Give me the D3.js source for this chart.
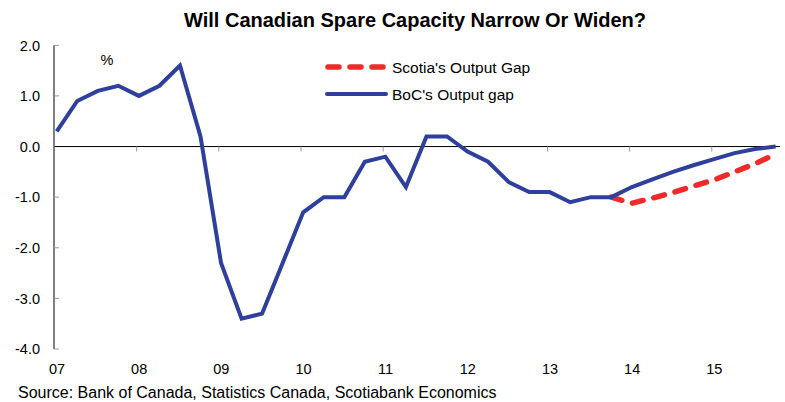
<!DOCTYPE html>
<meta charset="utf-8">
<style>
body { margin: 0; background: #fff; }
svg text { font-family: "Liberation Sans", Arial, sans-serif; fill: #000; }
.title { font-size: 20px; font-weight: bold; }
.tick-label { font-size: 14.5px; }
.legend text { font-size: 15.5px; }
.source { font-size: 16px; }
</style>
<svg width="785" height="402"></svg>
<script src="https://d3js.org/d3.v7.min.js"></script>
<script>

// quarterly data, 2007Q1 .. 2015Q4
var quarters = [
  "2007Q1","2007Q2","2007Q3","2007Q4","2008Q1","2008Q2","2008Q3","2008Q4",
  "2009Q1","2009Q2","2009Q3","2009Q4","2010Q1","2010Q2","2010Q3","2010Q4",
  "2011Q1","2011Q2","2011Q3","2011Q4","2012Q1","2012Q2","2012Q3","2012Q4",
  "2013Q1","2013Q2","2013Q3","2013Q4","2014Q1","2014Q2","2014Q3","2014Q4",
  "2015Q1","2015Q2","2015Q3","2015Q4"
];

var bocGap = [
  0.3, 0.9, 1.1, 1.2, 1.0, 1.2, 1.6, 0.2,
  -2.3, -3.4, -3.3, -2.3, -1.3, -1.0, -1.0, -0.3,
  -0.2, -0.8, 0.2, 0.2, -0.1, -0.3, -0.7, -0.9,
  -0.9, -1.1, -1.0, -1.0, -0.8, -0.65, -0.5, -0.37,
  -0.25, -0.13, -0.05, 0.0
];

// Scotia forecast starts at 2013Q4
var scotiaStart = 27;
var scotiaGap = [-1.0, -1.12, -1.02, -0.91, -0.78, -0.66, -0.5, -0.34, -0.15];

var yTicks = [2, 1, 0, -1, -2, -3, -4];
var xYears = [2007, 2008, 2009, 2010, 2011, 2012, 2013, 2014, 2015];

var svg = d3.select("svg");

function qTime(q) {
  var yr = +q.slice(0, 4), n = +q.slice(5);
  return yr + (n - 1) / 4 + 0.027;
}

var x = d3.scaleLinear().domain([2007, 2015.83]).range([54.5, 780]);
var y = d3.scaleLinear().domain([-4, 2]).range([349, 45.3]);

var blue = "#2E3F9C", red = "#EE2B2B";

svg.append("text")
  .attr("class", "title")
  .attr("x", 415).attr("y", 26.5)
  .attr("text-anchor", "middle")
  .text("Will Canadian Spare Capacity Narrow Or Widen?");

// y axis
var yAxis = svg.append("g").attr("transform", "translate(" + 54 + ",0)");
yAxis.append("line")
  .attr("x1", 0).attr("x2", 0)
  .attr("y1", y(2)).attr("y2", y(-4))
  .attr("stroke", "#000").attr("stroke-width", 1);
yAxis.selectAll(".yt").data(yTicks).enter().append("line")
  .attr("x1", 0).attr("x2", 5)
  .attr("y1", d => y(d)).attr("y2", d => y(d))
  .attr("stroke", "#999");
yAxis.selectAll(".yl").data(yTicks).enter().append("text")
  .attr("class", "tick-label")
  .attr("x", -14).attr("y", d => y(d))
  .attr("dy", "0.36em")
  .attr("text-anchor", "end")
  .text(d => d3.format(".1f")(d).replace("−", "-"));

// x axis on zero line
var xAxis = svg.append("g");
xAxis.append("line")
  .attr("x1", x(2007)).attr("x2", x(2015.83))
  .attr("y1", y(0)).attr("y2", y(0))
  .attr("stroke", "#000");
xAxis.selectAll(".xt").data(xYears.slice(1)).enter().append("line")
  .attr("x1", d => x(d)).attr("x2", d => x(d))
  .attr("y1", y(0)).attr("y2", y(0) + 5)
  .attr("stroke", "#999");
xAxis.selectAll(".xl").data(xYears).enter().append("text")
  .attr("class", "tick-label")
  .attr("x", d => x(d) + 2.5).attr("y", 373.5)
  .attr("text-anchor", "middle")
  .text(d => String(d).slice(2));

svg.append("text")
  .attr("class", "tick-label")
  .attr("x", 107).attr("y", 65)
  .attr("text-anchor", "middle")
  .text("%");

var line = d3.line()
  .x(d => x(d.t))
  .y(d => y(d.v));

var bocPts = quarters.map((q, i) => ({ t: qTime(q), v: bocGap[i] }));
var scotiaPts = scotiaGap.map((v, i) => ({ t: qTime(quarters[scotiaStart + i]), v: v }));

svg.append("path")
  .datum(scotiaPts)
  .attr("d", line)
  .attr("fill", "none")
  .attr("stroke", red)
  .attr("stroke-width", 5.5)
  .attr("stroke-linecap", "round")
  .attr("stroke-dasharray", "11,11");

svg.append("path")
  .datum(bocPts)
  .attr("d", line)
  .attr("fill", "none")
  .attr("stroke", blue)
  .attr("stroke-width", 4)
  .attr("stroke-linejoin", "miter");

// legend
var legend = svg.append("g").attr("class", "legend");
legend.append("line")
  .attr("x1", 328).attr("x2", 383).attr("y1", 67).attr("y2", 67)
  .attr("stroke", red).attr("stroke-width", 5.5)
  .attr("stroke-linecap", "round")
  .attr("stroke-dasharray", "11,11");
legend.append("text").attr("x", 392).attr("y", 72.5).text("Scotia's Output Gap");
legend.append("line")
  .attr("x1", 327).attr("x2", 386).attr("y1", 94).attr("y2", 94)
  .attr("stroke", blue).attr("stroke-width", 4)
  .attr("stroke-linecap", "round");
legend.append("text").attr("x", 392).attr("y", 99.5).text("BoC's Output gap");

svg.append("text")
  .attr("class", "source")
  .attr("x", 18).attr("y", 397.5)
  .text("Source: Bank of Canada, Statistics Canada, Scotiabank Economics");

</script>
